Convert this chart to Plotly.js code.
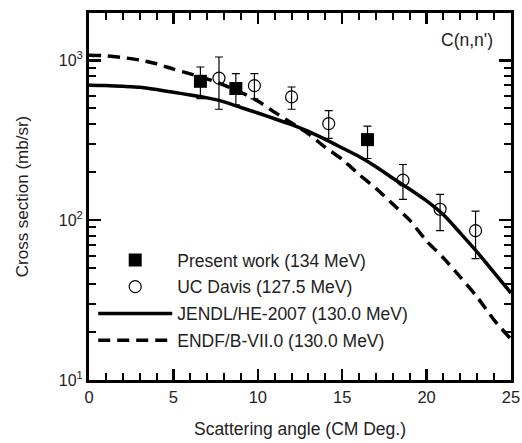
<!DOCTYPE html>
<html>
<head>
<meta charset="utf-8">
<script src="https://cdn.plot.ly/plotly-3.0.1.min.js"></script>
<style>html,body{margin:0;padding:0;background:#fff;}#chart{width:522px;height:443px;}</style>
</head>
<body>
<div id="chart"></div>
<script>
// Present work (134 MeV)
const presentAngle = [6.6, 8.7, 16.5];
const presentValue = [739, 666, 319];
const presentErrUp = [908, 826, 388];
const presentErrLow = [576, 527, 243];

// UC Davis (127.5 MeV)
const davisAngle = [7.7, 9.8, 12.0, 14.2, 18.6, 20.8, 22.9];
const davisValue = [774, 695, 590, 402, 178, 117, 86];
const davisErrUp = [1049, 826, 681, 485, 223, 145, 114];
const davisErrLow = [494, 573, 494, 325, 135, 86, 57.5];

// Evaluations (130.0 MeV)
const evalAngle = [0,1,2,3,4,5,6,7,8,9,10,11,12,13,14,15,16,17,18,19,20,21,22,23,24,25];
const jendl = [698,695,687,678,656,631,607,582,550,507,468,431,396,359,320,283,250,216,183,156,132,108,83,63,47,35];
const endf  = [1076,1067,1040,1005,951,881,822,766,700,631,556,473,405,347,285,240,193,158,126,100,74,58,44,33,23.7,18];

const yTickVals = [10, 100, 1000];
const yTickText = ['10<sup>1</sup>', '10<sup>2</sup>', '10<sup>3</sup>'];
const yMinorVals = [20,30,40,50,60,70,80,90,200,300,400,500,600,700,800,900,2000];

const seriesNames = ['Present work (134 MeV)', 'UC Davis (127.5 MeV)', 'JENDL/HE-2007 (130.0 MeV)', 'ENDF/B-VII.0 (130.0 MeV)'];

const diff = (a, b) => a.map((v, i) => v - b[i]);

const traces = [
  {
    x: presentAngle, y: presentValue, mode: 'markers', type: 'scatter', name: seriesNames[0], legendgroup: 'g1',
    marker: {symbol: 'square', size: 13, color: '#000'},
    error_y: {type: 'data', symmetric: false, array: diff(presentErrUp, presentValue), arrayminus: diff(presentValue, presentErrLow), color: '#000', thickness: 1.2, width: 4}
  },
  {
    x: davisAngle, y: davisValue, mode: 'markers', type: 'scatter', name: seriesNames[1], legendgroup: 'g2',
    marker: {symbol: 'circle-open', size: 12, color: '#000', line: {width: 1.2, color: '#000'}},
    error_y: {type: 'data', symmetric: false, array: diff(davisErrUp, davisValue), arrayminus: diff(davisValue, davisErrLow), color: '#000', thickness: 1.2, width: 4}
  },
  {
    x: evalAngle, y: jendl, mode: 'lines', type: 'scatter', name: seriesNames[2], legendgroup: 'g3',
    line: {color: '#000', width: 3.5, shape: 'spline', smoothing: 0.6}
  },
  {
    x: evalAngle, y: endf, mode: 'lines', type: 'scatter', name: seriesNames[3], legendgroup: 'g4',
    line: {color: '#000', width: 3.5, dash: '12px,7px', shape: 'spline', smoothing: 0.6}
  }
];

const font = 'Liberation Sans, Arial, sans-serif';

const layout = {
  width: 522, height: 443,
  margin: {l: 89, r: 11, t: 13, b: 63},
  paper_bgcolor: '#fff', plot_bgcolor: '#fff',
  font: {family: font, color: '#222', size: 17},
  showlegend: true,
  legend: {
    x: 0.01, y: 0.376, xanchor: 'left', yanchor: 'top',
    bgcolor: 'rgba(0,0,0,0)', borderwidth: 0,
    font: {family: font, size: 17.5, color: '#222'},
    itemwidth: 74, tracegroupgap: 1, traceorder: 'grouped'
  },
  xaxis: {
    range: [0, 25], tick0: 0, dtick: 5,
    ticks: 'inside', ticklen: 11, tickwidth: 2.5, tickcolor: '#000',
    minor: {dtick: 1, ticks: 'inside', ticklen: 7, tickwidth: 2, tickcolor: '#000'},
    showline: true, linewidth: 3, linecolor: '#000', mirror: 'ticks',
    showgrid: false, zeroline: false,
    tickfont: {family: font, size: 16.5, color: '#222'},
    title: {text: 'Scattering angle (CM Deg.)', font: {family: font, size: 17.5, color: '#222'}, standoff: 18}
  },
  yaxis: {
    type: 'log', range: [1, 3.296],
    tickmode: 'array', tickvals: yTickVals, ticktext: yTickText,
    ticks: 'inside', ticklen: 12, tickwidth: 2.5, tickcolor: '#000',
    minor: {tickmode: 'array', tickvals: yMinorVals, ticks: 'inside', ticklen: 7, tickwidth: 2, tickcolor: '#000'},
    showline: true, linewidth: 3, linecolor: '#000', mirror: 'ticks',
    showgrid: false, zeroline: false,
    tickfont: {family: font, size: 16, color: '#222'},
    title: {text: 'Cross section (mb/sr)', font: {family: font, size: 17, color: '#222'}, standoff: 26}
  },
  annotations: [
    {text: "C(n,n')", xref: 'paper', yref: 'paper', x: 0.963, y: 0.926, xanchor: 'right', yanchor: 'middle', showarrow: false, font: {family: font, size: 17.5, color: '#222'}}
  ]
};

Plotly.newPlot('chart', traces, layout, {displayModeBar: false, staticPlot: true});
</script>
</body>
</html>
